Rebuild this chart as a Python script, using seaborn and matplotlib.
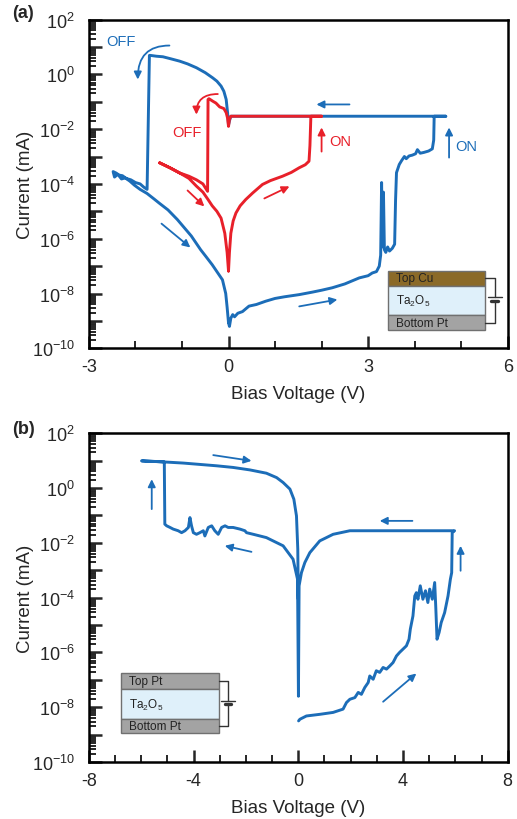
import numpy as np
import pandas as pd
import matplotlib
matplotlib.use("Agg")
import matplotlib.pyplot as plt
from matplotlib.patches import Rectangle, FancyArrowPatch
from matplotlib.ticker import LogLocator, FuncFormatter, MultipleLocator, NullFormatter
import seaborn as sns

# ---------------- data (voltage in V, log10 of current in mA) ----------------
# Panel (a): Cu / Ta2O5 / Pt, blue sweep
a_blue_v = [0.00, 0.02, 0.05, 0.09, 0.13, 0.20, 0.30, 0.44, 0.60, 0.80, 1.00, 1.20, 1.52, 1.80,
            2.00, 2.23, 2.50, 2.81, 3.00, 3.09, 3.18, 3.24, 3.27, 3.29, 3.31, 3.33, 3.35, 3.38,
            3.42, 3.46, 3.52, 3.57, 3.59, 3.61, 3.67, 3.72, 3.78, 3.82, 3.88, 3.95, 4.02, 4.06,
            4.12, 4.20, 4.30, 4.38, 4.41, 4.42, 4.67,
            0.05, 0.02, 0.00, -0.02, -0.05, -0.10, -0.16, -0.25, -0.34, -0.50, -0.69, -0.88,
            -1.05, -1.25, -1.41, -1.55, -1.68, -1.70, -1.75, -1.82, -1.90, -2.00, -2.10, -2.20,
            -2.28, -2.35, -2.42, -2.48, -2.45, -2.38, -2.30, -2.22, -2.12, -2.02, -1.90, -1.75,
            -1.60, -1.49, -1.30, -1.10, -0.92, -0.80, -0.70, -0.60, -0.49, -0.35, -0.25, -0.13,
            -0.06, -0.03, 0.00]
a_blue_logi = [-9.07, -9.20, -8.90, -8.77, -8.85, -8.72, -8.66, -8.46, -8.40, -8.28, -8.18, -8.12, -8.04, -7.95,
               -7.88, -7.79, -7.65, -7.43, -7.35, -7.25, -7.20, -7.00, -6.60, -3.95, -6.30, -4.30, -6.40, -6.50,
               -6.30, -6.45, -6.35, -6.20, -4.60, -3.59, -3.29, -3.15, -3.00, -3.08, -2.98, -2.95, -2.90, -2.75,
               -2.88, -2.85, -2.80, -2.72, -2.40, -1.53, -1.53,
               -1.53, -1.70, -1.85, -1.40, -0.92, -0.62, -0.43, -0.25, -0.13, 0.06, 0.24, 0.38,
               0.48, 0.57, 0.64, 0.66, 0.69, 0.69, -4.20, -4.12, -4.00, -3.95, -3.85, -3.80,
               -3.70, -3.68, -3.60, -3.55, -3.75, -3.65, -3.82, -3.78, -3.90, -4.05, -4.20, -4.35,
               -4.55, -4.70, -4.95, -5.30, -5.66, -5.90, -6.15, -6.40, -6.64, -6.95, -7.20, -7.50,
               -8.00, -8.50, -9.07]

# Panel (a): red sweep
a_red_v = [0.00, 0.02, 0.05, 0.10, 0.16, 0.25, 0.37, 0.52, 0.73, 0.90, 1.16, 1.35, 1.52, 1.65,
           1.73, 1.75, 1.77, 2.00,
           0.05, 0.02, 0.00, -0.02, -0.05, -0.10, -0.19, -0.27, -0.34, -0.42, -0.44, -0.45,
           -0.55, -0.69, -0.85, -1.05, -1.25, -1.48,
           -1.25, -1.05, -0.85, -0.69, -0.55, -0.44, -0.35, -0.25, -0.16, -0.08, -0.03, 0.00]
a_red_logi = [-7.18, -6.50, -5.80, -5.35, -5.06, -4.80, -4.57, -4.33, -4.02, -3.88, -3.72, -3.58, -3.41, -3.30,
              -3.17, -2.60, -1.53, -1.53,
              -1.53, -1.65, -1.90, -1.60, -1.40, -1.25, -1.19, -1.05, -0.98, -0.89, -0.92, -4.27,
              -4.00, -3.85, -3.72, -3.60, -3.42, -3.23,
              -3.42, -3.60, -3.80, -4.08, -4.30, -4.57, -4.80, -5.00, -5.25, -5.80, -6.50, -7.18]

# Panel (b): Pt / Ta2O5 / Pt
b_v = [0.01, 0.06, 0.31, 0.82, 1.33, 1.71, 1.84, 1.97, 2.16, 2.29, 2.41, 2.54, 2.67, 2.73, 2.86,
       2.98, 3.11, 3.24, 3.37, 3.50, 3.62, 3.75, 3.87, 4.00, 4.13, 4.23, 4.28, 4.38, 4.45, 4.51,
       4.57, 4.66, 4.76, 4.86, 4.95, 5.02, 5.12, 5.21, 5.25, 5.30, 5.38, 5.46, 5.59, 5.72, 5.81,
       5.86, 5.88, 5.97,
       1.97, 1.33, 0.82, 0.44, 0.25, 0.12, 0.03, 0.005, -0.03,
       -0.20, -0.58, -1.22, -1.72, -1.98, -2.04, -2.23, -2.49, -2.68, -2.80, -2.93, -3.06, -3.19,
       -3.31, -3.44, -3.57, -3.63, -3.76, -3.89, -4.01, -4.08, -4.14, -4.20, -4.33, -4.46, -4.59,
       -4.78, -4.90, -5.03, -5.10, -5.12, -5.50, -5.99,
       -5.12, -4.40, -3.76, -3.12, -2.49, -1.85, -1.22, -0.83, -0.58, -0.32, -0.17, -0.07, -0.02,
       0.00]
b_logi = [-8.50, -8.44, -8.32, -8.26, -8.19, -8.07, -7.83, -7.71, -7.65, -7.46, -7.53, -7.28, -7.10, -6.86, -6.98,
          -6.67, -6.73, -6.55, -6.61, -6.49, -6.37, -6.13, -6.00, -5.88, -5.76, -5.52, -5.15, -4.67, -3.94, -3.82,
          -4.06, -3.57, -4.06, -3.75, -4.18, -3.69, -4.06, -3.45, -4.30, -5.52, -5.27, -4.91, -4.55, -3.94, -3.33,
          -3.09, -1.63, -1.56,
          -1.56, -1.69, -1.93, -2.36, -2.72, -3.09, -3.57, -7.60, -3.33,
          -2.60, -2.11, -1.81, -1.69, -1.63, -1.56, -1.50, -1.44, -1.44, -1.38, -1.44, -1.69, -1.56,
          -1.38, -1.44, -1.75, -1.56, -1.63, -1.69, -1.63, -1.38, -1.08, -1.44, -1.56, -1.63, -1.56,
          -1.50, -1.44, -1.38, -1.32, 0.95, 0.97, 0.99,
          0.95, 0.91, 0.86, 0.81, 0.75, 0.66, 0.54, 0.38, 0.20, -0.04, -0.41, -1.02, -2.23,
          -4.06]

a_xticks = [-3, 0, 3, 6]
b_xticks = [-8, -4, 0, 4, 8]

BLUE = "#1c6db8"
RED = "#e8202a"

sns.set_style("ticks")
plt.rcParams["font.family"] = ["Liberation Sans", "DejaVu Sans"]
plt.rcParams["mathtext.fontset"] = "custom"
plt.rcParams["mathtext.rm"] = "Liberation Sans"
plt.rcParams["mathtext.it"] = "Liberation Sans:italic"
plt.rcParams["mathtext.bf"] = "Liberation Sans:bold"
plt.rcParams["axes.unicode_minus"] = False

fig = plt.figure(figsize=(5.17, 8.2), dpi=100)
ax_a = fig.add_axes([0.172, 0.574, 0.810, 0.401])
ax_b = fig.add_axes([0.172, 0.0695, 0.810, 0.401])


def draw_curve(ax, v, logi, color):
    df = pd.DataFrame({"V": v, "I": np.power(10.0, np.array(logi))})
    sns.lineplot(data=df, x="V", y="I", sort=False, estimator=None, ax=ax,
                 color=color, lw=2.1, legend=False)


def ylab(y, p):
    e = int(round(np.log10(y)))
    if e % 2:
        return ""
    return r"$10^{%s}$" % (r"\mathrm{-}%d" % (-e) if e < 0 else "%d" % e)


def style_axes(ax, xlim, xticks, xminor):
    ax.set_yscale("log")
    ax.set_xlim(*xlim)
    ax.set_ylim(1e-10, 1e2)
    ax.set_xticks(xticks)
    ax.xaxis.set_minor_locator(MultipleLocator(xminor))
    ax.yaxis.set_major_locator(LogLocator(base=10, numticks=30))
    ax.yaxis.set_minor_locator(LogLocator(base=10, subs=np.arange(2, 10), numticks=30))
    ax.yaxis.set_minor_formatter(NullFormatter())
    ax.yaxis.set_major_formatter(FuncFormatter(ylab))
    ax.tick_params(axis="both", which="major", direction="in", length=9, width=1.8,
                   labelsize=13, top=False, right=False)
    ax.tick_params(axis="both", which="minor", direction="in", length=5, width=1.4,
                   top=False, right=False)
    ax.tick_params(axis="y", which="major", pad=10)
    ax.tick_params(axis="x", which="major", pad=7)
    for s in ax.spines.values():
        s.set_linewidth(1.8)
        s.set_color("black")
    ax.set_xlabel("Bias Voltage (V)", fontsize=13.5)
    ax.set_ylabel("Current (mA)", fontsize=13.5)
    ax.xaxis.set_label_coords(0.5, -0.112)
    ax.yaxis.set_label_coords(-0.13, 0.5)


def arrow(ax, x0, l0, x1, l1, color, lw=1.3, conn="arc3,rad=0"):
    p = FancyArrowPatch((x0, 10 ** l0), (x1, 10 ** l1), arrowstyle="-|>", mutation_scale=11,
                        color=color, lw=lw, connectionstyle=conn, shrinkA=0, shrinkB=0)
    ax.add_patch(p)


def inset(ax, x0, x1, yb, y1, y2, yt, xc, top_label, top_color):
    tr = ax.transAxes
    layers = [(y2, yt, top_color, top_label),
              (y1, y2, "#dff0fa", r"Ta$_2$O$_5$"),
              (yb, y1, "#a3a3a3", "Bottom Pt")]
    for lo, hi, col, lab in layers:
        ax.add_patch(Rectangle((x0, lo), x1 - x0, hi - lo, transform=tr, facecolor=col,
                               edgecolor="#707070", lw=1.0, zorder=5, clip_on=False))
        ax.text(x0 + 0.02, (lo + hi) / 2, lab, transform=tr, fontsize=8.5, color="#222222",
                va="center", ha="left", zorder=6)
    ytop = (y2 + yt) / 2
    ybot = (yb + y1) / 2
    ymid = (y1 + y2) / 2 + (y2 - y1) * 0.05
    gap = (yt - yb) * 0.06
    ax.plot([x1, xc, xc], [ytop, ytop, ymid + gap / 2], transform=tr, color="#333333", lw=1.0, zorder=6)
    ax.plot([x1, xc, xc], [ybot, ybot, ymid - gap / 2], transform=tr, color="#333333", lw=1.0, zorder=6)
    w = x1 - x0
    ax.plot([xc - w * 0.07, xc + w * 0.07], [ymid + gap / 2] * 2, transform=tr, color="#333333", lw=1.0, zorder=6)
    ax.plot([xc - w * 0.035, xc + w * 0.035], [ymid - gap / 2] * 2, transform=tr, color="#333333", lw=2.4, zorder=6)


# ---------------- panel (a) ----------------
draw_curve(ax_a, a_blue_v, a_blue_logi, BLUE)
draw_curve(ax_a, a_red_v, a_red_logi, RED)
style_axes(ax_a, (-3, 6), a_xticks, 1)

ax_a.text(-2.32, 10 ** 1.2, "OFF", color=BLUE, fontsize=10.5, ha="center", va="center")
arrow(ax_a, -1.27, 1.05, -1.95, -0.19, BLUE, conn="angle3,angleA=0,angleB=90")
ax_a.text(-0.89, 10 ** -2.09, "OFF", color=RED, fontsize=10.5, ha="center", va="center")
arrow(ax_a, -0.23, -0.72, -0.69, -1.47, RED, conn="angle3,angleA=0,angleB=90")
ax_a.text(2.17, 10 ** -2.45, "ON", color=RED, fontsize=10.5, ha="left", va="center")
arrow(ax_a, 2.0, -2.82, 2.0, -1.94, RED)
ax_a.text(4.87, 10 ** -2.6, "ON", color=BLUE, fontsize=10.5, ha="left", va="center")
arrow(ax_a, 4.74, -3.04, 4.74, -1.94, BLUE)
arrow(ax_a, 2.60, -1.10, 1.89, -1.10, BLUE)
arrow(ax_a, -0.88, -4.24, -0.52, -4.82, RED)
arrow(ax_a, 0.77, -4.53, 1.31, -4.09, RED)
arrow(ax_a, -1.44, -5.45, -0.82, -6.32, BLUE)
arrow(ax_a, 1.52, -8.47, 2.34, -8.22, BLUE)

inset(ax_a, 0.714, 0.947, 0.055, 0.100, 0.191, 0.234, 0.969, "Top Cu", "#8b6a28")

# ---------------- panel (b) ----------------
draw_curve(ax_b, b_v, b_logi, BLUE)
style_axes(ax_b, (-8, 8), b_xticks, 1)

arrow(ax_b, -3.25, 1.20, -1.79, 0.99, BLUE)
arrow(ax_b, -1.79, -2.33, -2.81, -2.11, BLUE)
arrow(ax_b, -5.6, -0.77, -5.6, 0.32, BLUE)
arrow(ax_b, 4.36, -1.20, 3.11, -1.20, BLUE)
arrow(ax_b, 6.2, -3.02, 6.2, -2.11, BLUE)
arrow(ax_b, 3.24, -7.80, 4.51, -6.77, BLUE)

inset(ax_b, 0.0757, 0.311, 0.088, 0.131, 0.222, 0.2705, 0.332, "Top Pt", "#a3a3a3")

fig.text(0.023, 1 - 13 / 820, "(a)", fontsize=13, fontweight="bold", va="center", ha="left")
fig.text(0.023, 1 - 430 / 820, "(b)", fontsize=13, fontweight="bold", va="center", ha="left")

fig.savefig("out.png", dpi=100)
